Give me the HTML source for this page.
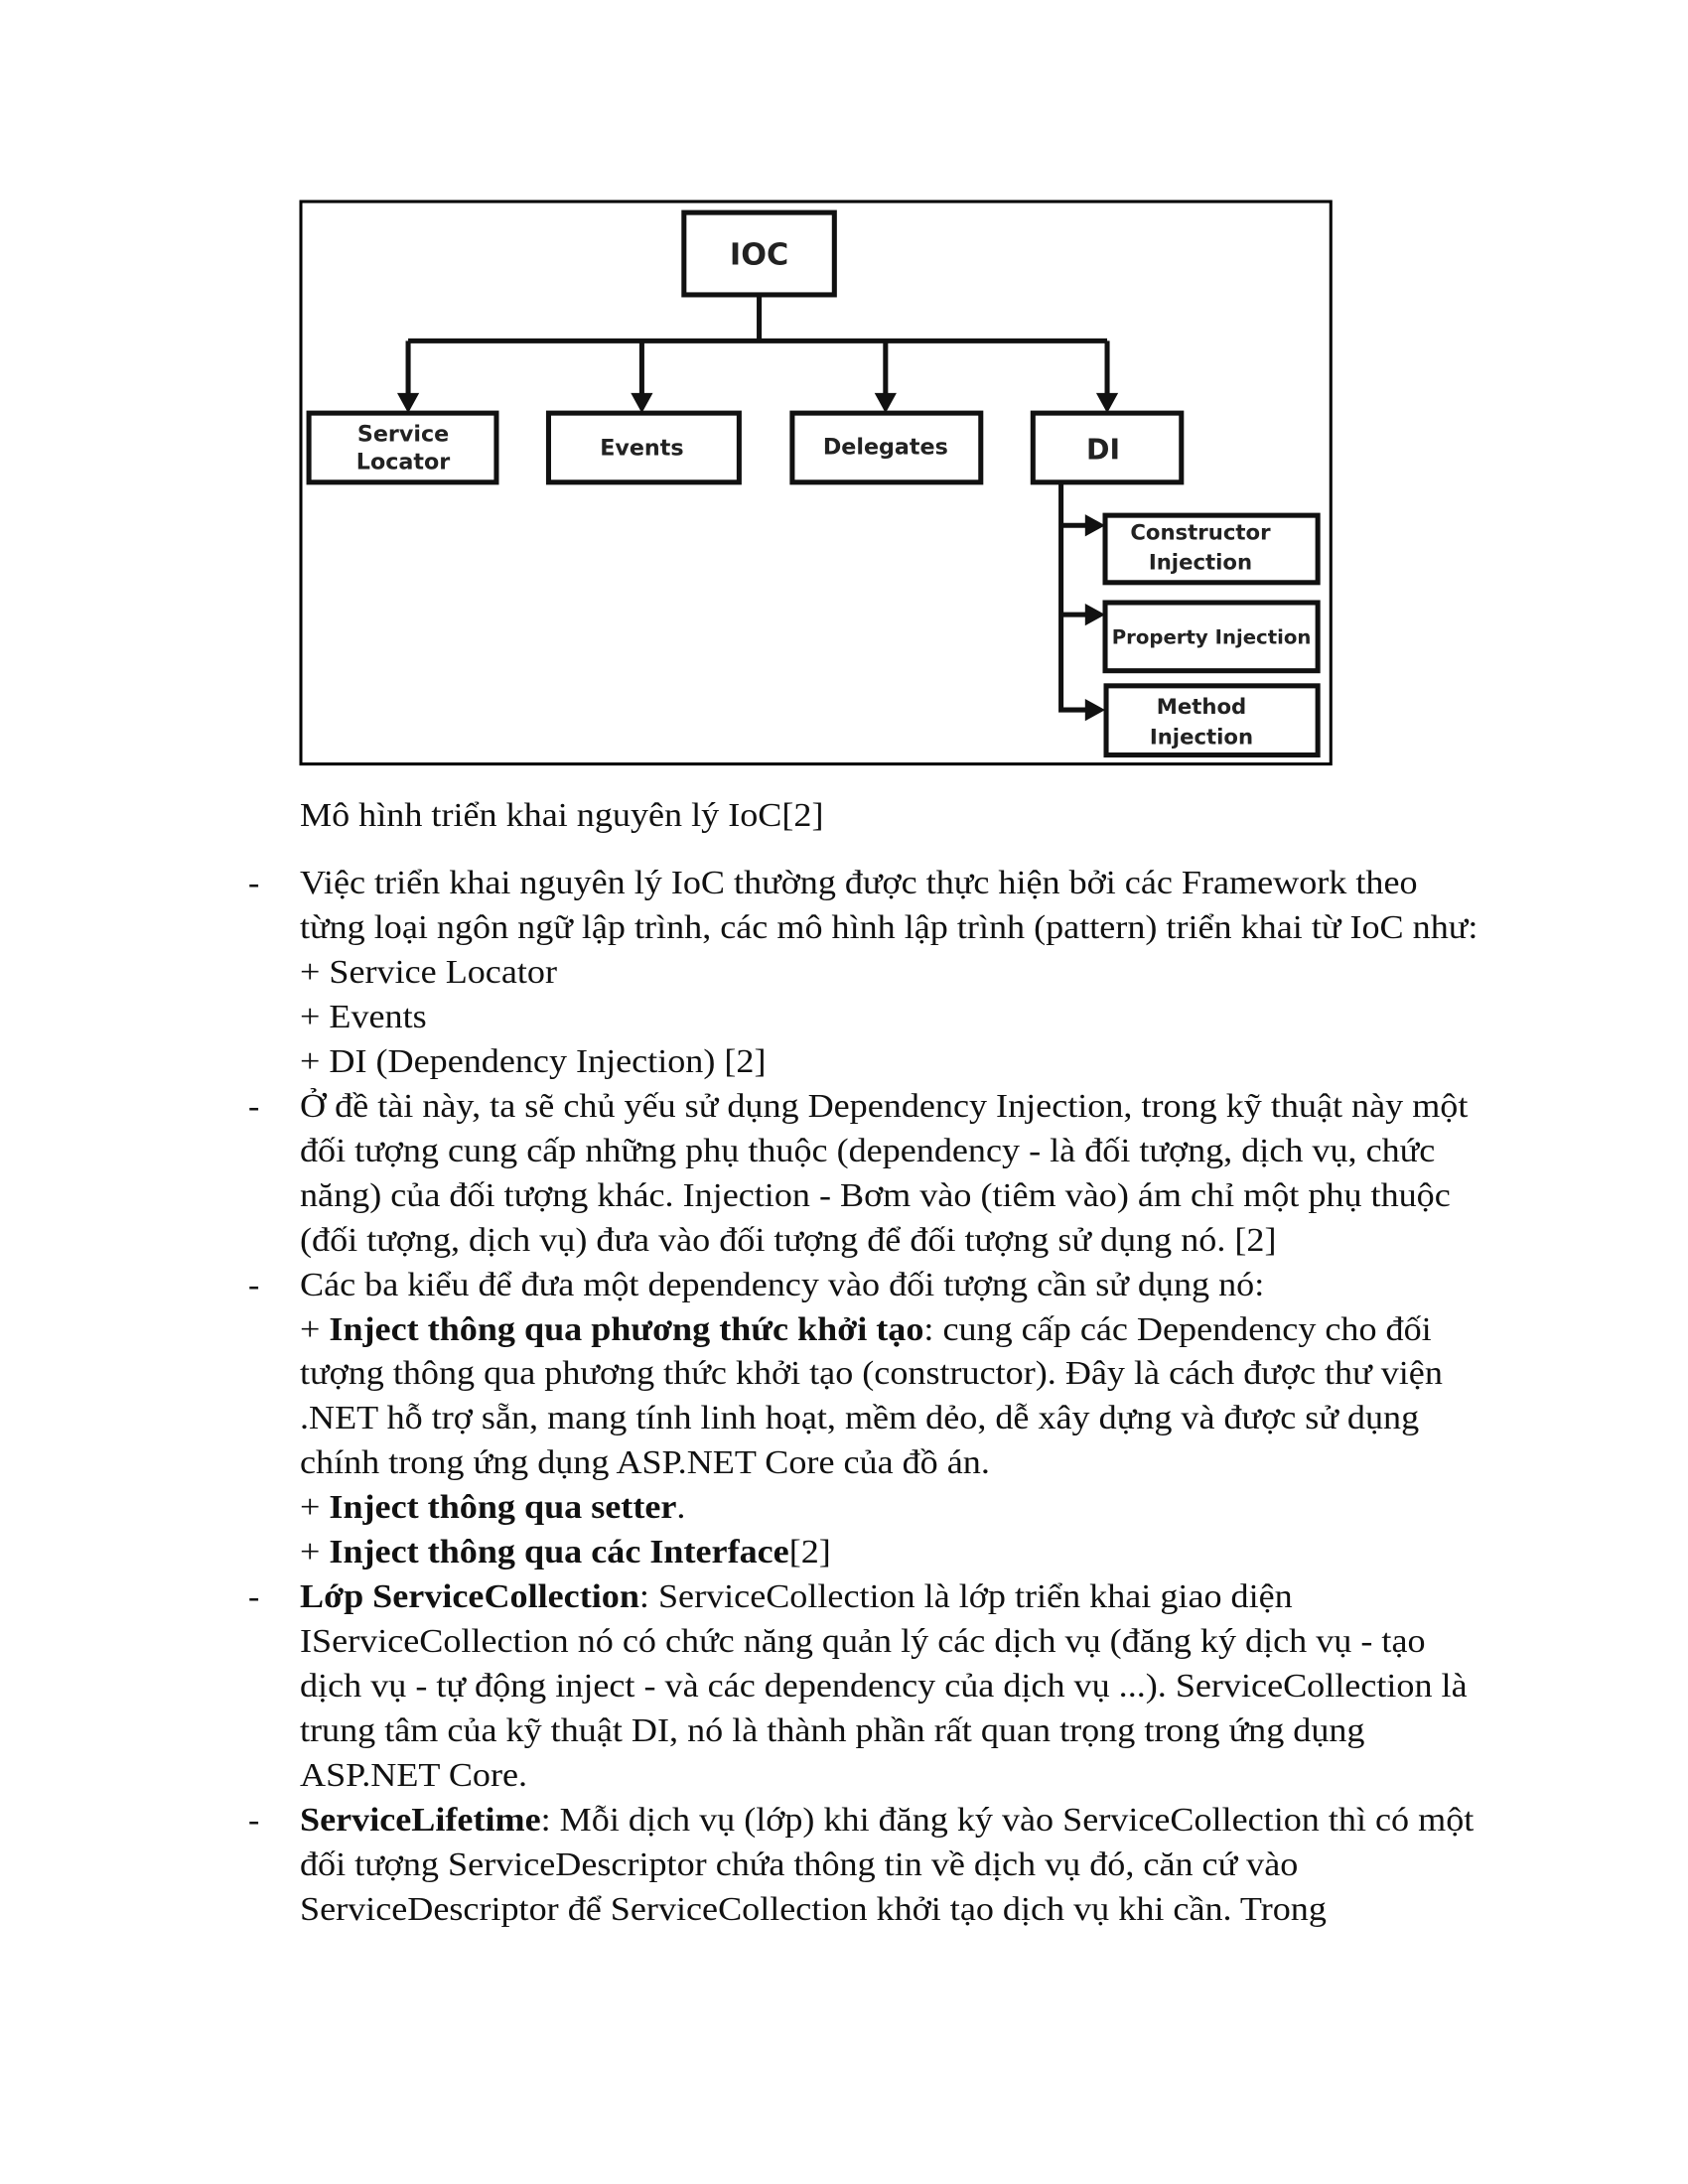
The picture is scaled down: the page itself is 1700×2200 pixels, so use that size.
<!DOCTYPE html>
<html><head><meta charset="utf-8">
<style>
html,body{margin:0;padding:0;background:#fff;}
body{width:1700px;height:2200px;position:relative;overflow:hidden;}
.t{position:absolute;left:302px;font-family:"Liberation Serif",serif;font-size:34px;line-height:44.95px;white-space:nowrap;color:#111;transform:scaleX(1.062);transform-origin:0 0;}
.d{position:absolute;left:250px;font-family:"Liberation Serif",serif;font-size:34px;line-height:44.95px;color:#111;}
b{font-weight:bold;}
</style></head><body>
<svg width="1700" height="800" style="position:absolute;left:0;top:0" xmlns="http://www.w3.org/2000/svg">
<g transform="scale(1.01)">
<rect x="300" y="201" width="1027" height="561" fill="none" stroke="#000" stroke-width="3"/>
<g fill="none" stroke="#111" stroke-width="5">
<rect x="682" y="212" width="150" height="82"/>
<rect x="308" y="412" width="187" height="69"/>
<rect x="547" y="412" width="190" height="69"/>
<rect x="790" y="412" width="188" height="69"/>
<rect x="1030" y="412" width="148" height="69"/>
<rect x="1102" y="514" width="212" height="67"/>
<rect x="1102" y="601" width="212" height="68"/>
<rect x="1103" y="684" width="211" height="69"/>
<path d="M757 294V340M407 340H1104M407 340V395M640 340V395M883 340V395M1104 340V395"/>
<path d="M1058 481V708H1085M1058 524H1085M1058 613H1085"/>
</g>
<g fill="#111">
<path d="M396 392L418 392L407 412Z"/>
<path d="M629 392L651 392L640 412Z"/>
<path d="M872 392L894 392L883 412Z"/>
<path d="M1093 392L1115 392L1104 412Z"/>
<path d="M1082 513L1102 524L1082 535Z"/>
<path d="M1082 602L1102 613L1082 624Z"/>
<path d="M1082 697L1102 708L1082 719Z"/>
</g>
<g font-family="DejaVu Sans, sans-serif" font-weight="bold" fill="#222" text-anchor="middle">
<text x="757" y="264" font-size="30">IOC</text>
<text x="402" y="440" font-size="22">Service</text>
<text x="402" y="468" font-size="22">Locator</text>
<text x="640" y="454" font-size="22">Events</text>
<text x="883" y="453" font-size="22">Delegates</text>
<text x="1100" y="458" font-size="28">DI</text>
<text x="1197" y="538" font-size="21">Constructor</text>
<text x="1197" y="568" font-size="21">Injection</text>
<text x="1208" y="642" font-size="19.5">Property Injection</text>
<text x="1198" y="712" font-size="21">Method</text>
<text x="1198" y="742" font-size="21">Injection</text>
</g>
</g>
</svg>

<div class="t" style="top:800px">Mô hình triển khai nguyên lý IoC[2]</div>

<div class="d" style="top:868px">-</div>
<div class="d" style="top:1093px">-</div>
<div class="d" style="top:1273px">-</div>
<div class="d" style="top:1587px">-</div>
<div class="d" style="top:1812px">-</div>
<div class="t" style="top:868px">Việc triển khai nguyên lý IoC thường được thực hiện bởi các Framework theo<br>từng loại ngôn ngữ lập trình, các mô hình lập trình (pattern) triển khai từ IoC như:<br>+ Service Locator<br>+ Events<br>+ DI (Dependency Injection) [2]<br>Ở đề tài này, ta sẽ chủ yếu sử dụng Dependency Injection, trong kỹ thuật này một<br>đối tượng cung cấp những phụ thuộc (dependency - là đối tượng, dịch vụ, chức<br>năng) của đối tượng khác. Injection - Bơm vào (tiêm vào) ám chỉ một phụ thuộc<br>(đối tượng, dịch vụ) đưa vào đối tượng để đối tượng sử dụng nó. [2]<br>Các ba kiểu để đưa một dependency vào đối tượng cần sử dụng nó:<br>+ <b>Inject thông qua phương thức khởi tạo</b>: cung cấp các Dependency cho đối<br>tượng thông qua phương thức khởi tạo (constructor). Đây là cách được thư viện<br>.NET hỗ trợ sẵn, mang tính linh hoạt, mềm dẻo, dễ xây dựng và được sử dụng<br>chính trong ứng dụng ASP.NET Core của đồ án.<br>+ <b>Inject thông qua setter</b>.<br>+ <b>Inject thông qua các Interface</b>[2]<br><b>Lớp ServiceCollection</b>: ServiceCollection là lớp triển khai giao diện<br>IServiceCollection nó có chức năng quản lý các dịch vụ (đăng ký dịch vụ - tạo<br>dịch vụ - tự động inject - và các dependency của dịch vụ ...). ServiceCollection là<br>trung tâm của kỹ thuật DI, nó là thành phần rất quan trọng trong ứng dụng<br>ASP.NET Core.<br><b>ServiceLifetime</b>: Mỗi dịch vụ (lớp) khi đăng ký vào ServiceCollection thì có một<br>đối tượng ServiceDescriptor chứa thông tin về dịch vụ đó, căn cứ vào<br>ServiceDescriptor để ServiceCollection khởi tạo dịch vụ khi cần. Trong</div>
</body></html>
